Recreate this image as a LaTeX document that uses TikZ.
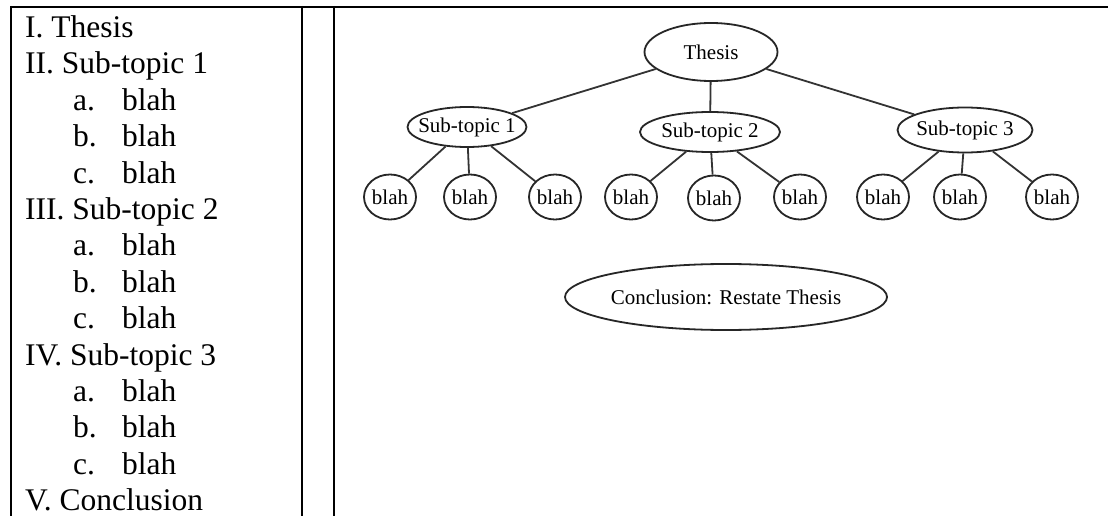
\documentclass[tikz,border=0pt]{standalone}
\usepackage{fontspec}
\setmainfont{Liberation Serif}
\usepackage{tikz}
\usetikzlibrary{positioning,shapes,calc}

\tikzset{
  rule/.style={line width=2.2pt},
  outline/.style={anchor=base west, inner sep=0pt, font=\fontsize{31.5}{37}\selectfont},
  topic/.style={ellipse, draw=black!85, line width=1.8pt, inner xsep=-8pt, inner ysep=2pt, font=\fontsize{21}{24}\selectfont},
  leaf/.style={topic, minimum width=52pt, minimum height=45pt},
  link/.style={line width=1.8pt, black!80}
}

\begin{document}
\begin{tikzpicture}[x=1pt, y=-1pt, on grid]
    \useasboundingbox[fill=white] (0,0) rectangle (1108,516);
    \draw[rule] (10,7) -- (1108,7);
    \draw[rule] (11,6) -- (11,516);
    \draw[rule] (302,6) -- (302,516);
    \draw[rule] (334,6) -- (334,516);

    \foreach \n/\txt in {0/I. Thesis, 1/II. Sub-topic 1, 5/III. Sub-topic 2, 9/IV. Sub-topic 3, 13/V. Conclusion}
        \node[outline] (h\n) at (25, 37.5+36.4*\n) {\txt};
    \foreach \n/\lab in {2/a., 3/b., 4/c., 6/a., 7/b., 8/c., 10/a., 11/b., 12/c.} {
        \node[outline] (l\n) at (73, 37.5+36.4*\n) {\lab};
        \node[outline] (w\n) at (122, 37.5+36.4*\n) {blah};
    }

    \node[topic, minimum width=133pt, minimum height=58pt] (thesis) at (711,52) {Thesis};
    \node[topic, minimum width=119pt, minimum height=40pt] (sub1) at (467,127) {Sub-topic 1};
    \node[topic, minimum width=140pt, minimum height=40pt] (sub2) at (710,132) {Sub-topic 2};
    \node[topic, minimum width=135pt, minimum height=45pt] (sub3) at (965,130) {Sub-topic 3};

    \node[leaf, below left=70pt and 77pt of sub1] (b11) {blah};
    \node[leaf, below right=70pt and 3pt of sub1] (b12) {blah};
    \node[leaf, below right=70pt and 88pt of sub1] (b13) {blah};
    \node[leaf, below left=65pt and 79pt of sub2] (b21) {blah};
    \node[leaf, below right=66pt and 4pt of sub2] (b22) {blah};
    \node[leaf, below right=65pt and 90pt of sub2] (b23) {blah};
    \node[leaf, below left=67pt and 82pt of sub3] (b31) {blah};
    \node[leaf, below left=67pt and 5pt of sub3] (b32) {blah};
    \node[leaf, below right=67pt and 87pt of sub3] (b33) {blah};

    \node[topic, minimum width=322pt, minimum height=66pt] (concl) at (726,297) {Conclusion: Restate Thesis};

    \draw[link] (thesis) -- (sub1);
    \draw[link] (thesis) -- (sub2);
    \draw[link] (thesis) -- (sub3);
    \draw[link] (sub1) -- (b11);
    \draw[link] (sub1) -- (b12);
    \draw[link] (sub1) -- (b13);
    \draw[link] (sub2) -- (b21);
    \draw[link] (sub2) -- (b22);
    \draw[link] (sub2) -- (b23);
    \draw[link] (sub3) -- (b31);
    \draw[link] (sub3) -- (b32);
    \draw[link] (sub3) -- (b33);
\end{tikzpicture}
\end{document}
